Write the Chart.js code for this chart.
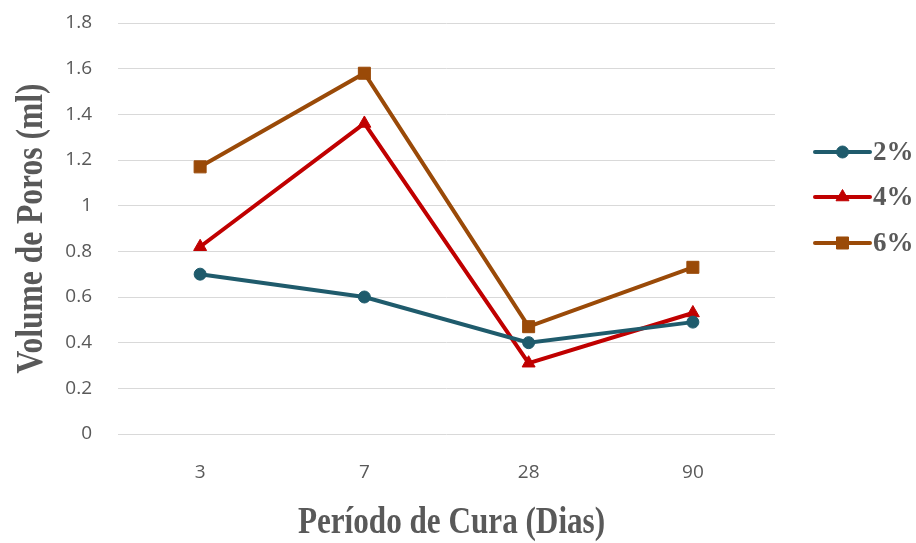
<!DOCTYPE html>
<html>
<head>
<meta charset="utf-8">
<script src="https://cdn.jsdelivr.net/npm/chart.js@4.4.1/dist/chart.umd.min.js"></script>
<style>
html,body{margin:0;padding:0;background:#fff;}
#wrap{width:916px;height:543px;position:relative;}
</style>
</head>
<body>
<div id="wrap"><canvas id="c" width="916" height="543"></canvas></div>
<script>
const categories = ["3", "7", "28", "90"];
const seriesNames = ["2%", "4%", "6%"];
const values2 = [0.70, 0.60, 0.40, 0.49];
const values4 = [0.82, 1.36, 0.31, 0.53];
const values6 = [1.17, 1.58, 0.47, 0.73];
const yTicks = [0, 0.2, 0.4, 0.6, 0.8, 1, 1.2, 1.4, 1.6, 1.8];
const xTitle = "Período de Cura (Dias)";
const yTitle = "Volume de Poros (ml)";

const colors = ["#1F5B6C", "#C00000", "#9A4A08"];
const styles = ["circle", "triangle", "rect"];
const radii = [6, 7.5, 8.5];

const titleFont = "bold 38px 'Liberation Serif'";
const textGray = "#595959";

const titlesPlugin = {
  id: "condensedTitles",
  afterDraw(chart) {
    const ctx = chart.ctx;
    const a = chart.chartArea;
    // x title
    ctx.save();
    ctx.fillStyle = textGray;
    ctx.font = titleFont;
    ctx.textAlign = "center";
    ctx.textBaseline = "alphabetic";
    ctx.translate((a.left + a.right) / 2 + 5, a.bottom + 99);
    ctx.scale(0.82, 1);
    ctx.fillText(xTitle, 0, 0);
    ctx.restore();
    // y title
    ctx.save();
    ctx.fillStyle = textGray;
    ctx.font = titleFont;
    ctx.textAlign = "center";
    ctx.textBaseline = "alphabetic";
    ctx.translate(42, (a.top + a.bottom) / 2);
    ctx.rotate(-Math.PI / 2);
    ctx.scale(0.83, 1);
    ctx.fillText(yTitle, 0, 0);
    ctx.restore();
  }
};

const legendPlugin = {
  id: "sideLegend",
  afterDraw(chart) {
    const ctx = chart.ctx;
    const area = chart.chartArea;
    const x0 = area.right + 40, x1 = area.right + 95;
    const ys = [152, 197, 243];
    chart.data.datasets.forEach((ds, i) => {
      const y = ys[i];
      ctx.save();
      ctx.strokeStyle = ds.borderColor;
      ctx.lineWidth = 4;
      ctx.lineCap = "round";
      ctx.beginPath(); ctx.moveTo(x0, y); ctx.lineTo(x1, y); ctx.stroke();
      ctx.restore();
      ctx.save();
      ctx.fillStyle = ds.borderColor;
      ctx.strokeStyle = ds.borderColor;
      ctx.lineWidth = 1;
      Chart.helpers.drawPoint(ctx, {pointStyle: ds.pointStyle, radius: ds.pointRadius, rotation: 0, borderWidth: 1}, (x0 + x1) / 2, y);
      ctx.restore();
      ctx.save();
      ctx.fillStyle = textGray;
      ctx.font = "bold 27px 'Liberation Serif'";
      ctx.textBaseline = "middle";
      ctx.fillText(ds.label, x1 + 3, y + 1);
      ctx.restore();
    });
  }
};

const datasets = [values2, values4, values6].map((v, i) => ({
  label: seriesNames[i],
  data: v,
  borderColor: colors[i],
  backgroundColor: colors[i],
  borderWidth: 4,
  pointStyle: styles[i],
  pointRadius: radii[i],
  pointHoverRadius: radii[i],
  pointBackgroundColor: colors[i],
  pointBorderColor: colors[i],
  pointBorderWidth: 1,
  tension: 0
}));

new Chart(document.getElementById("c"), {
  type: "line",
  data: { labels: categories, datasets },
  options: {
    responsive: false,
    maintainAspectRatio: false,
    animation: false,
    layout: { padding: { left: 0, right: 141, top: 23, bottom: 0 } },
    plugins: { legend: { display: false }, tooltip: { enabled: false } },
    scales: {
      x: {
        offset: true,
        grid: { display: false, drawTicks: false },
        border: { display: false },
        ticks: { color: textGray, font: { size: 19, family: "'Open Sans'" }, padding: 27 },
        afterFit(s) { s.height = 109; s.paddingLeft = 0; s.paddingRight = 0; }
      },
      y: {
        min: 0, max: 1.8,
        afterBuildTicks(scale) { scale.ticks = yTicks.map(v => ({ value: v })); },
        grid: { color: "#D9D9D9", lineWidth: 1, drawTicks: false },
        border: { display: false },
        ticks: { color: textGray, font: { size: 19, family: "'Open Sans'" }, padding: 26,
                 callback: v => String(v) },
        afterFit(s) { s.width = 118; s.paddingTop = 0; s.paddingBottom = 0; }
      }
    }
  },
  plugins: [legendPlugin, titlesPlugin]
});
</script>
</body>
</html>
